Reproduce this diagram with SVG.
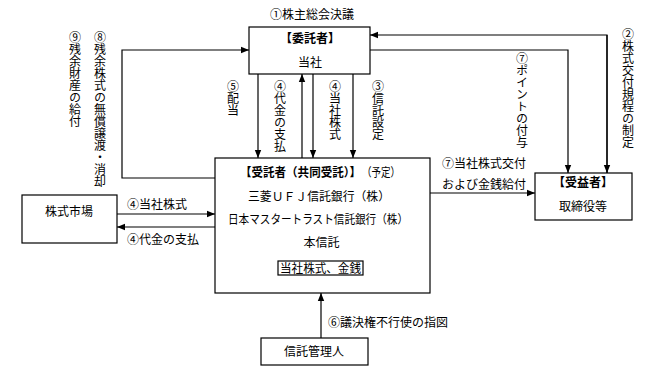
<svg xmlns="http://www.w3.org/2000/svg" width="650" height="379" viewBox="0 0 650 379">
<defs>
<style>
text{font-family:"Noto Sans CJK JP","Noto Sans CJK SC",sans-serif;font-size:12px;fill:#000}
.b{font-weight:bold}
.v{writing-mode:vertical-rl;text-orientation:upright}
.box{fill:#fff;stroke:#000;stroke-width:1.2}
.ln{fill:none;stroke:#000;stroke-width:1.2}
</style>
<marker id="ah" viewBox="0 0 8 8" refX="8" refY="4" markerWidth="8" markerHeight="8" markerUnits="userSpaceOnUse" orient="auto">
<path d="M0,0.8 L8,4 L0,7.2 Z" fill="#000"/>
</marker>
</defs>
<rect width="650" height="379" fill="#fff"/>
<g id="connectors">
<path class="ln" d="M215,178 H122 V50 H249" marker-end="url(#ah)"/>
<path class="ln" d="M607,173 V35 H370" marker-end="url(#ah)"/>
<path class="ln" d="M607,35 V173" marker-end="url(#ah)"/>
<path class="ln" d="M370,50 H568 V173" marker-end="url(#ah)"/>
<path class="ln" d="M258,74 V158" marker-end="url(#ah)"/>
<path class="ln" d="M302,158 V74" marker-end="url(#ah)"/>
<path class="ln" d="M313,72 V158" marker-end="url(#ah)"/>
<path class="ln" d="M353,74 V158" marker-end="url(#ah)"/>
<path class="ln" d="M430,193 H535" marker-end="url(#ah)"/>
<path class="ln" d="M117,214 H215" marker-end="url(#ah)"/>
<path class="ln" d="M215,227 H117" marker-end="url(#ah)"/>
<path class="ln" d="M321,338 V293" marker-end="url(#ah)"/>
<text x="312" y="19" text-anchor="middle">①株主総会決議</text>
<text class="v" x="233" y="80">⑤配当</text>
<text class="v" x="280" y="80">④代金の支払</text>
<text class="v" x="335" y="80">④当社株式</text>
<text class="v" x="378" y="80">③信託設定</text>
<text class="v" x="522" y="52">⑦ポイントの付与</text>
<text class="v" x="628" y="28">②株式交付規程の制定</text>
<text class="v" x="75" y="31">⑨残余財産の給付</text>
<text class="v" x="100" y="31">⑧残余株式の無償譲渡・消却</text>
<text x="127" y="209">④当社株式</text>
<text x="127" y="244">④代金の支払</text>
<text x="442" y="168">⑦当社株式交付</text>
<text x="442" y="189">および金銭給付</text>
<text x="328" y="327">⑥議決権不行使の指図</text>
</g>
<g id="itaku">
<rect class="box" x="249" y="27" width="121" height="47"/>
<text class="b" x="310" y="43" text-anchor="middle">【委託者】</text>
<text x="310" y="67" text-anchor="middle">当社</text>
</g>
<g id="jutaku">
<rect class="box" x="215" y="158" width="215" height="135"/>
<text class="b" x="240" y="177" textLength="121" lengthAdjust="spacingAndGlyphs">【受託者（共同受託）】</text>
<text x="362" y="177" textLength="38" lengthAdjust="spacingAndGlyphs">（予定）</text>
<text x="248" y="201" textLength="142" lengthAdjust="spacingAndGlyphs">三菱ＵＦＪ信託銀行（株）</text>
<text x="228" y="224" textLength="180" lengthAdjust="spacingAndGlyphs">日本マスタートラスト信託銀行（株）</text>
<text x="321.5" y="247" text-anchor="middle">本信託</text>
<rect class="box" x="278" y="261" width="85" height="14"/>
<text x="280" y="272.5" textLength="81" lengthAdjust="spacingAndGlyphs">当社株式、金銭</text>
</g>
<g id="jueki">
<rect class="box" x="535" y="173" width="97" height="47"/>
<text class="b" x="583" y="187" text-anchor="middle">【受益者】</text>
<text x="583" y="211" text-anchor="middle">取締役等</text>
</g>
<g id="shijo">
<rect class="box" x="22" y="195" width="95" height="48"/>
<text x="69" y="216" text-anchor="middle">株式市場</text>
</g>
<g id="kanri">
<rect class="box" x="261" y="338" width="107" height="27"/>
<text x="314" y="356" text-anchor="middle">信託管理人</text>
</g>
</svg>
